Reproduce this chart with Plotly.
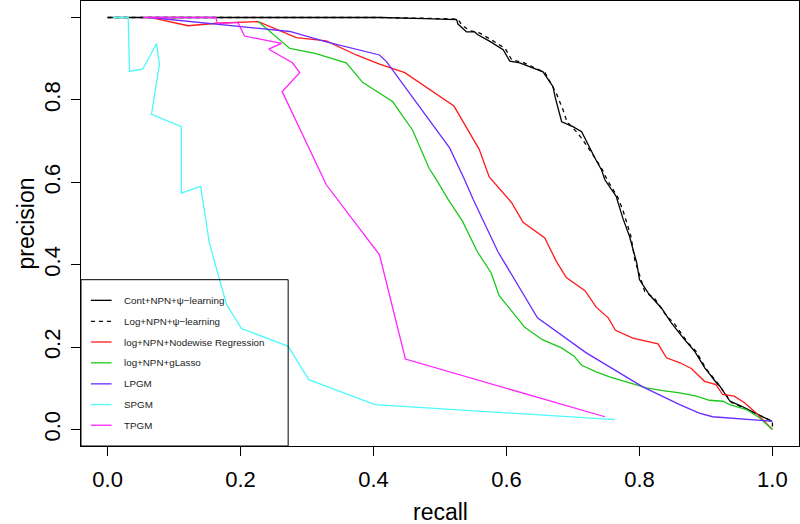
import plotly.graph_objects as go

# ---------------- data ----------------
series_names = [
    "Cont+NPN+\u03c8\u2212learning",
    "Log+NPN+\u03c8\u2212learning",
    "log+NPN+Nodewise Regression",
    "log+NPN+gLasso",
    "LPGM",
    "SPGM",
    "TPGM",
]

cont_recall = [0.0, 0.41, 0.477, 0.525, 0.527, 0.532, 0.540, 0.552, 0.557, 0.575, 0.595, 0.605,
               0.620, 0.655, 0.670, 0.673, 0.683, 0.700, 0.713, 0.733, 0.743, 0.748, 0.765,
               0.775, 0.785, 0.796, 0.800, 0.815, 0.833, 0.848, 0.866, 0.883, 0.898, 0.916,
               0.921, 0.936, 0.953, 0.999]
cont_precision = [1.0, 1.0, 0.997, 0.995, 0.984, 0.976, 0.965, 0.965, 0.958, 0.942, 0.922, 0.894,
                  0.890, 0.868, 0.832, 0.808, 0.747, 0.735, 0.723, 0.659, 0.630, 0.606, 0.566,
                  0.513, 0.469, 0.404, 0.364, 0.327, 0.295, 0.259, 0.222, 0.190, 0.150, 0.113,
                  0.105, 0.069, 0.057, 0.020]

log_recall = [0.0, 0.41, 0.48, 0.527, 0.533, 0.545, 0.555, 0.560, 0.578, 0.598, 0.608, 0.625,
              0.658, 0.675, 0.685, 0.691, 0.705, 0.713, 0.735, 0.745, 0.752, 0.767, 0.775,
              0.787, 0.793, 0.802, 0.808, 0.823, 0.841, 0.852, 0.873, 0.885, 0.900, 0.918,
              0.923, 0.938, 0.955, 1.0, 1.0]
log_precision = [1.0, 1.0, 0.998, 0.996, 0.981, 0.968, 0.965, 0.962, 0.945, 0.925, 0.897, 0.891,
                 0.866, 0.816, 0.776, 0.747, 0.723, 0.707, 0.655, 0.628, 0.604, 0.565, 0.533,
                 0.470, 0.412, 0.366, 0.335, 0.318, 0.275, 0.258, 0.210, 0.190, 0.148, 0.112,
                 0.100, 0.066, 0.054, 0.020, 0.0]

nodewise_recall = [0.064, 0.121, 0.164, 0.2265, 0.284, 0.329, 0.374, 0.409, 0.447, 0.521, 0.559,
                   0.574, 0.6075, 0.625, 0.6576, 0.675, 0.690, 0.718, 0.735, 0.753, 0.764, 0.790,
                   0.828, 0.8406, 0.861, 0.878, 0.898, 0.915, 0.925, 0.9425, 0.958, 0.973, 1.0]
nodewise_precision = [1.0, 0.980, 0.986, 0.990, 0.951, 0.943, 0.909, 0.887, 0.866, 0.785, 0.680,
                      0.613, 0.551, 0.503, 0.465, 0.408, 0.369, 0.337, 0.297, 0.271, 0.241, 0.222,
                      0.208, 0.174, 0.162, 0.148, 0.117, 0.109, 0.085, 0.081, 0.065, 0.044, 0.0]

glasso_recall = [0.2265, 0.274, 0.312, 0.359, 0.384, 0.409, 0.4286, 0.4586, 0.4836, 0.4947, 0.512,
                 0.534, 0.556, 0.577, 0.589, 0.6275, 0.654, 0.6827, 0.7016, 0.713, 0.735, 0.755,
                 0.785, 0.8105, 0.835, 0.8606, 0.8857, 0.905, 0.9256, 0.936, 0.961, 0.981, 1.0]
glasso_precision = [0.990, 0.925, 0.913, 0.890, 0.842, 0.815, 0.796, 0.727, 0.634, 0.606, 0.559,
                    0.505, 0.432, 0.380, 0.325, 0.248, 0.218, 0.198, 0.178, 0.156, 0.140, 0.128,
                    0.113, 0.101, 0.0945, 0.089, 0.081, 0.071, 0.0686, 0.0606, 0.0485, 0.028, 0.0]

lpgm_recall = [0.064, 0.164, 0.274, 0.329, 0.409, 0.4195, 0.5147, 0.537, 0.5498, 0.587, 0.6466,
               0.720, 0.805, 0.8606, 0.890, 0.910, 0.961, 1.0]
lpgm_precision = [1.0, 0.984, 0.966, 0.941, 0.909, 0.893, 0.683, 0.606, 0.559, 0.432, 0.271,
                  0.186, 0.1035, 0.0606, 0.040, 0.031, 0.024, 0.020]

spgm_recall = [0.008, 0.031, 0.033, 0.053, 0.0737, 0.078, 0.066, 0.111, 0.111, 0.140, 0.153,
               0.179, 0.2015, 0.2716, 0.3027, 0.402, 0.763]
spgm_precision = [1.0, 1.0, 0.869, 0.875, 0.937, 0.886, 0.765, 0.735, 0.574, 0.590, 0.453,
                  0.303, 0.245, 0.202, 0.121, 0.0606, 0.024]

tpgm_recall = [0.053, 0.163, 0.165, 0.196, 0.206, 0.2616, 0.2425, 0.278, 0.289, 0.2626, 0.329,
               0.344, 0.409, 0.448, 0.748]
tpgm_precision = [1.0, 1.0, 0.985, 0.988, 0.955, 0.937, 0.923, 0.890, 0.866, 0.820, 0.594,
                  0.562, 0.424, 0.171, 0.031]

x_ticks = [0.0, 0.2, 0.4, 0.6, 0.8, 1.0]
x_tick_labels = ["0.0", "0.2", "0.4", "0.6", "0.8", "1.0"]
y_ticks = [0.0, 0.2, 0.4, 0.6, 0.8, 1.0]
y_tick_labels = ["0.0", "0.2", "0.4", "0.6", "0.8", "1.0"]
x_title = "recall"
y_title = "precision"

# ---------------- styles ----------------
colors = ["#000000", "#000000", "#FF1A1A", "#1BC81B", "#6A2BFF", "#4DFAFA", "#FF22FF"]
dashes = ["solid", "4px,4px", "solid", "solid", "solid", "solid", "solid"]
FONT = "Liberation Sans, Arial, Helvetica, sans-serif"

data_x = [cont_recall, log_recall, nodewise_recall, glasso_recall, lpgm_recall, spgm_recall, tpgm_recall]
data_y = [cont_precision, log_precision, nodewise_precision, glasso_precision, lpgm_precision,
          spgm_precision, tpgm_precision]

fig = go.Figure()
for name, xs, ys, c, d in zip(series_names, data_x, data_y, colors, dashes):
    fig.add_trace(go.Scatter(x=xs, y=ys, mode="lines", name=name, showlegend=False,
                             line=dict(color=c, width=1.3, dash=d)))

# ---------------- manual R-style legend (bottom-left, transparent) ----------------
lx0, lx1 = -0.04, 0.2716
ly0, ly1 = -0.04, 0.3636
fig.add_shape(type="rect", xref="x", yref="y", x0=lx0, x1=lx1, y0=ly0, y1=ly1,
              line=dict(color="black", width=1), fillcolor="rgba(0,0,0,0)")
row_y = [0.3135, 0.2625, 0.2124, 0.1618, 0.1108, 0.0606, 0.0104]
for name, ry, c, d in zip(series_names, row_y, colors, dashes):
    fig.add_shape(type="line", xref="x", yref="y", x0=-0.0251, x1=0.006, y0=ry, y1=ry,
                  line=dict(color=c, width=1.3, dash=d))
    fig.add_annotation(x=0.021, y=ry, xref="x", yref="y", text=name, showarrow=False,
                       xanchor="left", yanchor="middle",
                       font=dict(family=FONT, size=9.8, color="#222222"))

# axis titles as annotations for exact placement
fig.add_annotation(x=0.5, y=0, xref="x domain", yref="y domain", text=x_title, showarrow=False,
                   xanchor="center", yanchor="middle", yshift=-66,
                   font=dict(family=FONT, size=23, color="black"))
fig.add_annotation(x=0, y=0.5, xref="x domain", yref="y domain", text=y_title, showarrow=False,
                   xanchor="center", yanchor="middle", xshift=-56, textangle=-90,
                   font=dict(family=FONT, size=23, color="black"))

fig.update_layout(
    width=800, height=524,
    margin=dict(l=81, r=1, t=1, b=78),
    plot_bgcolor="white", paper_bgcolor="white",
    font=dict(family=FONT, color="black"),
)
fig.update_xaxes(range=[-0.04, 1.04], tickvals=x_ticks, ticktext=x_tick_labels, automargin=False,
                 showgrid=False, zeroline=False, showline=True, linecolor="black", linewidth=1,
                 mirror=True, ticks="outside", ticklen=9, tickcolor="black",
                 tickfont=dict(family=FONT, size=22), ticklabelstandoff=5)
fig.update_yaxes(range=[-0.04, 1.04], tickvals=y_ticks, ticktext=y_tick_labels, automargin=False,
                 showgrid=False, zeroline=False, showline=True, linecolor="black", linewidth=1,
                 mirror=True, ticks="outside", ticklen=9, tickcolor="black", tickangle=-90,
                 tickfont=dict(family=FONT, size=22), ticklabelstandoff=2)

fig.write_html("out.html", config={"displayModeBar": False},
               post_script="document.body.style.margin='0';document.body.style.overflow='hidden';")
